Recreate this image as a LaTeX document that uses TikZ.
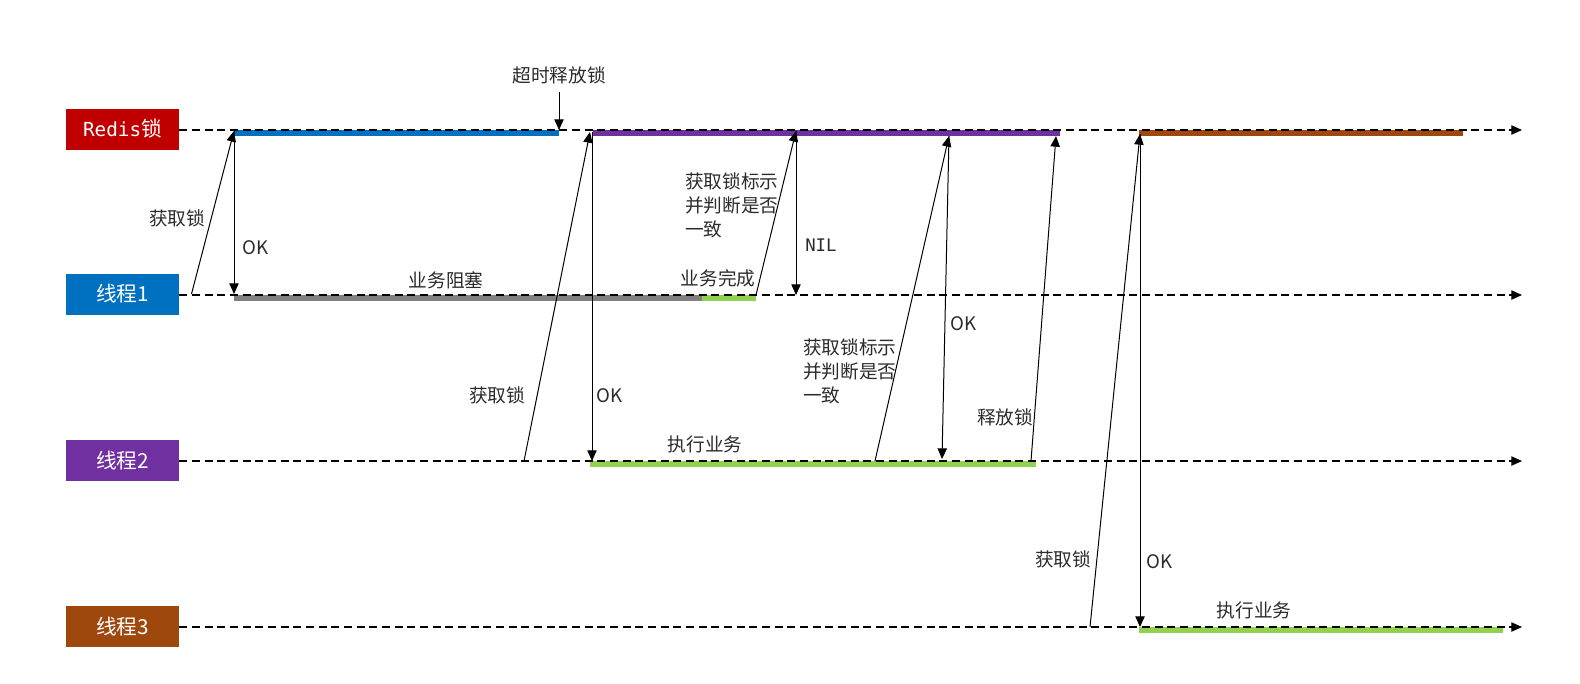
\documentclass[tikz,border=0pt]{standalone}
\usepackage{fontspec}
\setmainfont{Noto Sans CJK SC}
\newfontfamily\monofont{DejaVu Sans Mono}
\usetikzlibrary{arrows.meta}
\definecolor{redisred}{HTML}{C00000}
\definecolor{tblue}{HTML}{0070C0}
\definecolor{tpurple}{HTML}{7030A0}
\definecolor{tbrown}{HTML}{9E480E}
\definecolor{bgreen}{HTML}{92D050}
\definecolor{bgray}{HTML}{808080}
\definecolor{txt}{HTML}{2B2B2B}
\tikzset{
  actor/.style={minimum width=113*0.75pt, minimum height=41*0.75pt, inner sep=0pt, text=white, font=\fontsize{15.5}{18}\selectfont},
  timeline/.style={dash pattern=on 6pt off 3.5pt, line width=0.8pt, -{Triangle[length=8pt,width=7pt]}},
  bar/.style={line width=4.8pt},
  msg/.style={line width=0.75pt, -{Triangle[length=8pt,width=7pt]}},
  lbl/.style={text=txt, font=\fontsize{14}{18}\selectfont, inner sep=0pt},
  mlbl/.style={lbl, align=left, anchor=north west},
}
\begin{document}
\begin{tikzpicture}[x=0.75pt,y=-0.75pt]
\useasboundingbox (0,0) rectangle (1580,683);
% actors
\node[actor, fill=redisred] (redis) at (122.5,129) {{\monofont\fontsize{14.5}{18}\selectfont Redis}锁};
\node[actor, fill=tblue] (t1) at (122.5,294) {线程1};
\node[actor, fill=tpurple] (t2) at (122.5,460.5) {线程2};
\node[actor, fill=tbrown] (t3) at (122.5,626.5) {线程3};
% timeline ends
\coordinate (rE) at (1522,130);
\coordinate (t1E) at (1522,295);
\coordinate (t2E) at (1522,461);
\coordinate (t3E) at (1522,627);
% bars
\draw[bar, tblue] (234,133.2) -- (559,133.2);
\draw[bar, tpurple] (592.5,133.2) -- (1060,133.2);
\draw[bar, tbrown] (1139,133.2) -- (1463,133.2);
\draw[bar, bgray] (234,298.2) -- (702,298.2);
\draw[bar, bgreen] (702,298.2) -- (756,298.2);
\draw[bar, bgreen] (589.5,464.2) -- (1036,464.2);
\draw[bar, bgreen] (1139,630.2) -- (1503,630.2);
% timelines
\draw[timeline] (redis.east |- rE) -- (rE);
\draw[timeline] (t1.east |- t1E) -- (t1E);
\draw[timeline] (t2.east |- t2E) -- (t2E);
\draw[timeline] (t3.east |- t3E) -- (t3E);
% timeout
\node[lbl] (timeout) at (559,75) {超时释放锁};
\coordinate (toS) at (559,92);
\coordinate (toE) at (559,130);
\draw[msg] (toS) -- (toE);
% coordinates for messages
\coordinate (a1s) at (191.5,294);
\coordinate (a1e) at (234,131);
\coordinate (ok1e) at (234,294);
\coordinate (a2s) at (524,461);
\coordinate (a2e) at (590,132);
\coordinate (ok2s) at (592,132);
\coordinate (ok2e) at (592,461);
\coordinate (a3s) at (756,295);
\coordinate (a3e) at (796,131);
\coordinate (nile) at (796,295);
\coordinate (a4s) at (875,461);
\coordinate (a4e) at (949,136);
\coordinate (ok4e) at (942,459);
\coordinate (a5s) at (1031,461);
\coordinate (a5e) at (1056,136);
\coordinate (a6s) at (1090,627);
\coordinate (a6e) at (1140,134);
\coordinate (ok6e) at (1140,627);
% messages
\draw[msg] (a1s) -- (a1e);
\draw[msg] (a1e) -- (ok1e);
\draw[msg] (a2s) -- (a2e);
\draw[msg] (ok2s) -- (ok2e);
\draw[msg] (a3s) -- (a3e);
\draw[msg] (a3e) -- (nile);
\draw[msg] (a4s) -- (a4e);
\draw[msg] (a4e) -- (ok4e);
\draw[msg] (a5s) -- (a5e);
\draw[msg] (a6s) -- (a6e);
\draw[msg] (a6e) -- (ok6e);
% labels
\node[lbl] (l1) at (177,218) {获取锁};
\node[lbl, anchor=west] (ok1) at (242,248) {OK};
\node[lbl] (b1) at (446,280) {业务阻塞};
\node[lbl] (b2) at (718,278) {业务完成};
\node[lbl] (l2) at (497,395) {获取锁};
\node[lbl, anchor=west] (ok2) at (596,396) {OK};
\node[mlbl] (l3) at (685,172) {获取锁标示\\并判断是否\\一致};
\node[lbl, anchor=west, font={\monofont\fontsize{13}{16}\selectfont}] (nil) at (805,245) {NIL};
\node[mlbl] (l4) at (803,338) {获取锁标示\\并判断是否\\一致};
\node[lbl, anchor=west] (ok4) at (950,324) {OK};
\node[lbl] (b3) at (705,444) {执行业务};
\node[lbl] (l5) at (1005,417) {释放锁};
\node[lbl] (l6) at (1063,559) {获取锁};
\node[lbl, anchor=west] (ok6) at (1146,562) {OK};
\node[lbl] (b4) at (1254,610) {执行业务};
\end{tikzpicture}
\end{document}
